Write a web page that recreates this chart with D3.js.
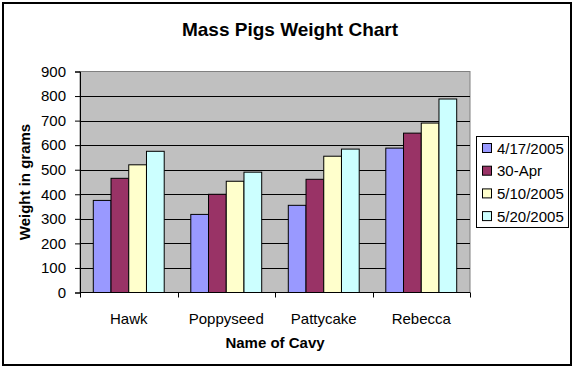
<!DOCTYPE html>
<html>
<head>
<meta charset="utf-8">
<script src="https://cdn.jsdelivr.net/npm/d3@7"></script>
<style>
  body { margin: 0; background: #fff; }
  svg text { font-family: Arial, "Liberation Sans", sans-serif; }
</style>
</head>
<body>
<div id="viz"></div>
<script>
// Chart data
const cavies = ['Hawk', 'Poppyseed', 'Pattycake', 'Rebecca'];
const dates = ['4/17/2005', '30-Apr', '5/10/2005', '5/20/2005'];
const colors = ['#9999ff', '#993366', '#ffffcc', '#ccffff'];
const hawk = [375, 465, 520, 575];
const poppyseed = [318, 400, 453, 490];
const pattycake = [355, 461, 555, 584];
const rebecca = [588, 649, 690, 788];
const yTicks = [0, 100, 200, 300, 400, 500, 600, 700, 800, 900];

const weights = [hawk, poppyseed, pattycake, rebecca];

const width = 576, height = 370;
const plot = { left: 80, right: 470, top: 71.5, bottom: 292.5 };

const svg = d3.select('#viz')
    .append('svg')
    .attr('width', width)
    .attr('height', height);

// outer chart border
svg.append('rect')
    .attr('x', 3).attr('y', 3)
    .attr('width', 568).attr('height', 362)
    .attr('fill', '#fff')
    .attr('stroke', '#000')
    .attr('stroke-width', 2);

const x0 = d3.scaleBand()
    .domain(cavies)
    .range([plot.left, plot.right]);

// excel style gap width of 150%
const barW = x0.bandwidth() / 5.5;
const x1 = d3.scaleBand()
    .domain(dates)
    .range([barW * 0.75, x0.bandwidth() - barW * 0.75]);

const y = d3.scaleLinear()
    .domain([0, 900])
    .range([plot.bottom, plot.top]);

// plot area background
svg.append('rect')
    .attr('x', plot.left).attr('y', plot.top)
    .attr('width', plot.right - plot.left)
    .attr('height', plot.bottom - plot.top)
    .attr('fill', '#c0c0c0')
    .attr('stroke', '#808080')
    .attr('stroke-width', 1);

// gridlines
svg.append('g')
    .selectAll('line')
    .data(yTicks.slice(1, -1))
    .enter()
    .append('line')
    .attr('x1', plot.left).attr('x2', plot.right)
    .attr('y1', d => Math.round(y(d)) + 0.5)
    .attr('y2', d => Math.round(y(d)) + 0.5)
    .attr('stroke', '#000');

// bars
const groups = svg.append('g')
    .selectAll('g')
    .data(cavies)
    .enter()
    .append('g')
    .attr('transform', d => `translate(${x0(d)},0)`);

groups.selectAll('rect')
    .data((d, i) => weights[i].map((v, j) => ({ date: dates[j], value: v, color: colors[j] })))
    .enter()
    .append('rect')
    .attr('x', d => x1(d.date))
    .attr('y', d => y(d.value))
    .attr('width', x1.bandwidth())
    .attr('height', d => y(0) - y(d.value))
    .attr('fill', d => d.color)
    .attr('stroke', '#000')
    .attr('stroke-width', 1);

// y axis
const yAxis = svg.append('g')
    .attr('transform', `translate(${plot.left},0)`)
    .call(d3.axisLeft(y).tickValues(yTicks).tickSize(5).tickPadding(9));
yAxis.select('.domain').attr('stroke', '#000');
yAxis.selectAll('text')
    .style('font-size', '15px')
    .attr('fill', '#000');

// x axis with ticks at category boundaries
const xAxis = svg.append('g')
    .attr('transform', `translate(0,${plot.bottom})`);
xAxis.append('line')
    .attr('x1', plot.left).attr('x2', plot.right)
    .attr('stroke', '#000');
xAxis.selectAll('.tick')
    .data(cavies.map(d => x0(d)).concat([plot.right]))
    .enter()
    .append('line')
    .attr('x1', d => Math.round(d) + 0.5)
    .attr('x2', d => Math.round(d) + 0.5)
    .attr('y1', 0).attr('y2', 5)
    .attr('stroke', '#000');
xAxis.selectAll('text')
    .data(cavies)
    .enter()
    .append('text')
    .attr('x', d => x0(d) + x0.bandwidth() / 2)
    .attr('y', 31)
    .attr('text-anchor', 'middle')
    .style('font-size', '15px')
    .text(d => d);

// titles
svg.append('text')
    .attr('x', 290).attr('y', 36)
    .attr('text-anchor', 'middle')
    .style('font-size', '19px')
    .style('font-weight', 'bold')
    .text('Mass Pigs Weight Chart');

svg.append('text')
    .attr('x', 275).attr('y', 348)
    .attr('text-anchor', 'middle')
    .style('font-size', '15px')
    .style('font-weight', 'bold')
    .text('Name of Cavy');

svg.append('text')
    .attr('transform', `translate(30,${(plot.top + plot.bottom) / 2}) rotate(-90)`)
    .attr('text-anchor', 'middle')
    .style('font-size', '15px')
    .style('font-weight', 'bold')
    .text('Weight in grams');

// legend
const legend = svg.append('g');
legend.append('rect')
    .attr('x', 476.5).attr('y', 136.5)
    .attr('width', 92).attr('height', 91)
    .attr('fill', '#fff')
    .attr('stroke', '#000');

const items = legend.selectAll('.item')
    .data(dates)
    .enter()
    .append('g')
    .attr('transform', (d, i) => `translate(482,${148 + i * 22.7})`);

items.append('rect')
    .attr('x', 0.5).attr('y', -4.5)
    .attr('width', 9).attr('height', 9)
    .attr('fill', (d, i) => colors[i])
    .attr('stroke', '#000');

items.append('text')
    .attr('x', 15).attr('y', 5.5)
    .style('font-size', '15px')
    .text(d => d);
</script>
</body>
</html>
